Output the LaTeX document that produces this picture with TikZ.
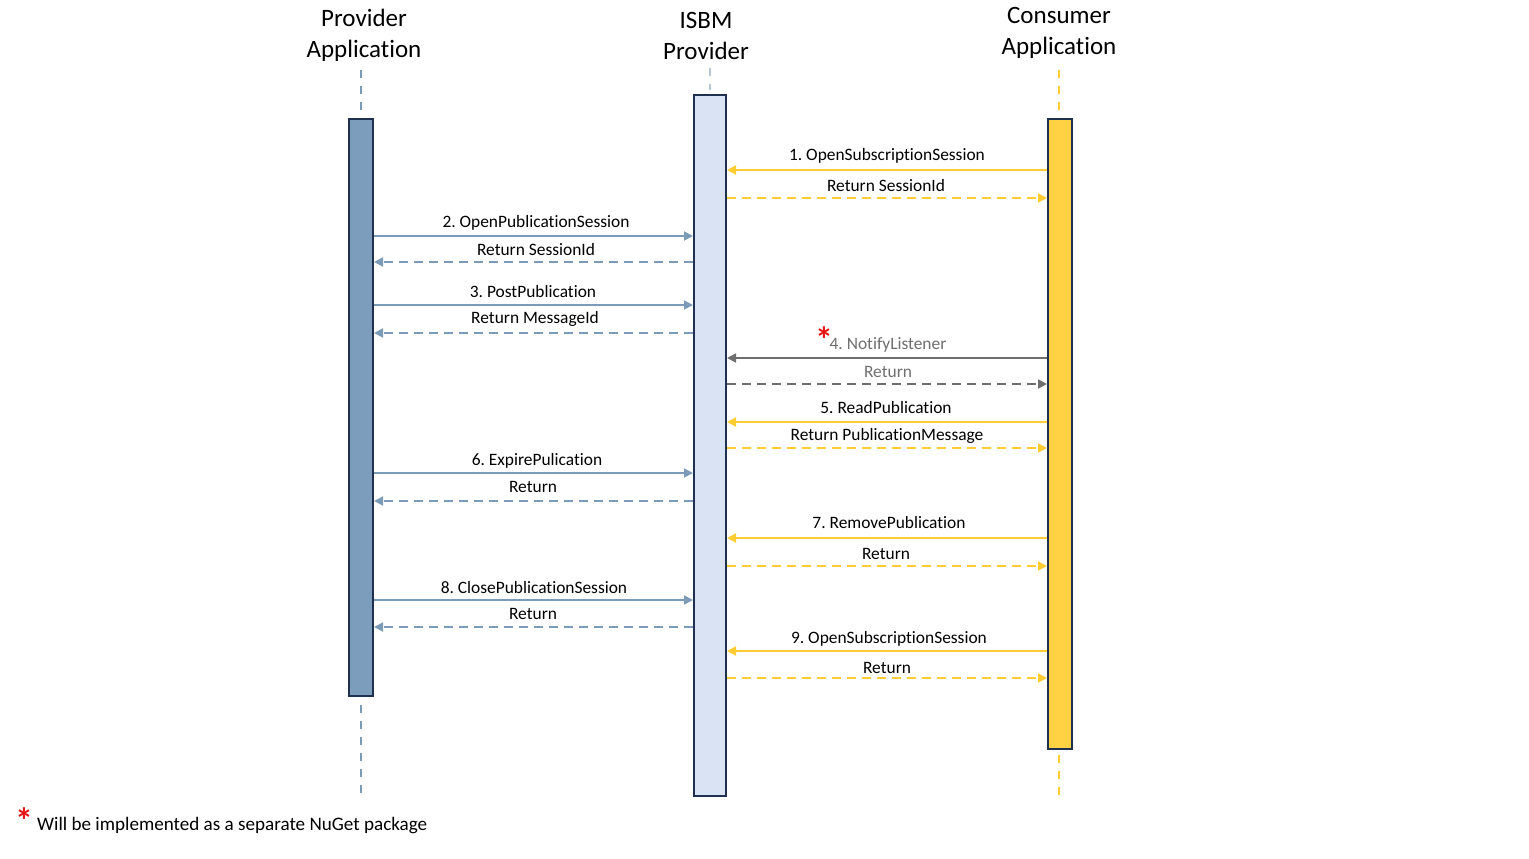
\documentclass[tikz,border=0pt]{standalone}
\usepackage{fontspec}
\setmainfont[Ligatures={NoCommon}]{Carlito}
\usetikzlibrary{arrows.meta}
\definecolor{pfill}{RGB}{124,157,188}
\definecolor{parrow}{RGB}{124,155,184}
\definecolor{ifill}{RGB}{218,227,243}
\definecolor{cfill}{RGB}{255,210,68}
\definecolor{carrow}{RGB}{255,204,51}
\definecolor{border}{RGB}{31,48,80}
\definecolor{garrow}{RGB}{110,110,110}
\definecolor{star}{RGB}{230,20,20}
\frenchspacing
\tikzset{
  every node/.style={font=\fontsize{17.4}{20}\selectfont, inner sep=0pt},
  lbl/.style={yshift=-2pt},
  header/.style={font=\fontsize{25}{31}\selectfont, align=center},
  lifebox/.style={draw=border, line width=2pt, anchor=north, minimum width=#1},
  lifeline/.style={line width=1.6pt, dash pattern=on 8pt off 8pt},
  msg/.style={line width=1.8pt, -{Triangle[length=9pt,width=9pt]}},
  ret/.style={msg, dash pattern=on 9pt off 6pt},
  starmark/.style={text=star, font=\fontsize{36}{36}\bfseries\selectfont},
}
\begin{document}
\begin{tikzpicture}[x=1pt,y=-1pt]
\useasboundingbox (0,0) rectangle (1529,859);
% headers
\node[header] (hp) at (364,35) {Provider\\Application};
\node[header] (hi) at (706,36) {ISBM\\Provider};
\node[header] (hc) at (1059,33) {Consumer\\Application};
% lifelines (dashed)
\draw[lifeline, color=parrow] (361,70) coordinate (pt) -- (361,112) coordinate (ptb);
\draw[lifeline, color=parrow] (361,705) coordinate (pb) -- (361,795) coordinate (pbb);
\draw[lifeline, color=ifill!60!parrow] (710,68) coordinate (it) -- (710,90) coordinate (itb);
\draw[lifeline, color=carrow] (1059,70) coordinate (ct) -- (1059,112) coordinate (ctb);
\draw[lifeline, color=carrow] (1059,755) coordinate (cb) -- (1059,795) coordinate (cbb);
% boxes
\node[lifebox=24pt, fill=pfill, minimum height=577pt] (pbox) at (361,118) {};
\node[lifebox=32pt, fill=ifill, minimum height=701pt] (ibox) at (710,94) {};
\node[lifebox=24pt, fill=cfill, minimum height=630pt] (cbox) at (1060,118) {};
% messages consumer <-> ISBM
\draw[msg, color=carrow] (cbox.west |- 0,170) -- (ibox.east |- 0,170);
\node[lbl] (l1) at (887,154) {1. OpenSubscriptionSession};
\draw[ret, color=carrow] (ibox.east |- 0,198) -- (cbox.west |- 0,198);
\node[lbl] (l1r) at (886,184) {Return SessionId};
% provider <-> ISBM
\draw[msg, color=parrow] (pbox.east |- 0,236) -- (ibox.west |- 0,236);
\node[lbl] (l2) at (536,221) {2. OpenPublicationSession};
\draw[ret, color=parrow] (ibox.west |- 0,262) -- (pbox.east |- 0,262);
\node[lbl] (l2r) at (536,248) {Return SessionId};
\draw[msg, color=parrow] (pbox.east |- 0,305) -- (ibox.west |- 0,305);
\node[lbl] (l3) at (533,290) {3. PostPublication};
\draw[ret, color=parrow] (ibox.west |- 0,333) -- (pbox.east |- 0,333);
\node[lbl] (l3r) at (535,317) {Return MessageId};
% notify
\draw[msg, color=garrow] (cbox.west |- 0,358) -- (ibox.east |- 0,358);
\node[lbl, text=garrow] (l4) at (888,343) {4. NotifyListener};
\node[starmark] (s4) at (824,340) {*};
\draw[ret, color=garrow] (ibox.east |- 0,384) -- (cbox.west |- 0,384);
\node[lbl, text=garrow] (l4r) at (888,370) {Return};
% read
\draw[msg, color=carrow] (cbox.west |- 0,422) -- (ibox.east |- 0,422);
\node[lbl] (l5) at (886,406) {5. ReadPublication};
\draw[ret, color=carrow] (ibox.east |- 0,448) -- (cbox.west |- 0,448);
\node[lbl] (l5r) at (887,434) {Return PublicationMessage};
% expire
\draw[msg, color=parrow] (pbox.east |- 0,473) -- (ibox.west |- 0,473);
\node[lbl] (l6) at (537,459) {6. ExpirePulication};
\draw[ret, color=parrow] (ibox.west |- 0,501) -- (pbox.east |- 0,501);
\node[lbl] (l6r) at (533,485) {Return};
% remove
\draw[msg, color=carrow] (cbox.west |- 0,538) -- (ibox.east |- 0,538);
\node[lbl] (l7) at (889,521) {7. RemovePublication};
\draw[ret, color=carrow] (ibox.east |- 0,566) -- (cbox.west |- 0,566);
\node[lbl] (l7r) at (886,552) {Return};
% close
\draw[msg, color=parrow] (pbox.east |- 0,600) -- (ibox.west |- 0,600);
\node[lbl] (l8) at (534,586) {8. ClosePublicationSession};
\draw[ret, color=parrow] (ibox.west |- 0,627) -- (pbox.east |- 0,627);
\node[lbl] (l8r) at (533,612) {Return};
% open subscription 9
\draw[msg, color=carrow] (cbox.west |- 0,651) -- (ibox.east |- 0,651);
\node[lbl] (l9) at (889,637) {9. OpenSubscriptionSession};
\draw[ret, color=carrow] (ibox.east |- 0,678) -- (cbox.west |- 0,678);
\node[lbl] (l9r) at (887,666) {Return};
% footnote
\node[starmark] (fs) at (24,821) {*};
\node[anchor=west, font=\fontsize{19.1}{22}\selectfont] (fn) at (37,826) {Will be implemented as a separate NuGet package};
\end{tikzpicture}
\end{document}
